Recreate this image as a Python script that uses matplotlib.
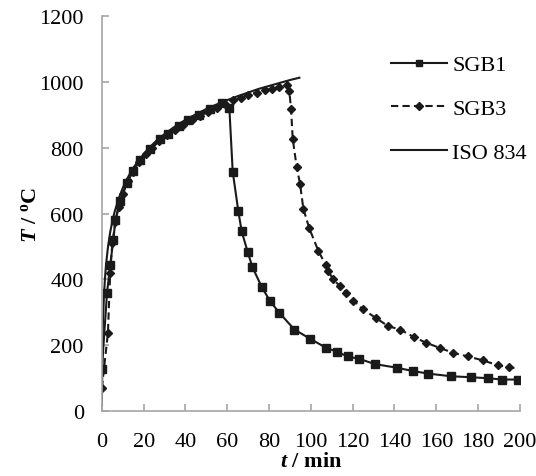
import matplotlib
matplotlib.use('Agg')
import matplotlib.pyplot as plt

plt.rcParams['font.family'] = ['Liberation Serif', 'DejaVu Serif']
plt.rcParams['mathtext.fontset'] = 'custom'
plt.rcParams['mathtext.it'] = 'Liberation Serif:bold:italic'
plt.rcParams['mathtext.rm'] = 'Liberation Serif:bold'

# ISO 834 standard fire curve
iso_t = [0, 0.5, 1, 1.5, 2, 3, 4, 5, 6, 8, 10, 12, 15, 20, 25, 30, 35, 40, 45,
         50, 55, 60, 65, 70, 75, 80, 85, 90, 94.5]
iso_T = [20, 261, 349, 404, 445, 502, 544, 576, 603, 645, 678, 705, 739, 781, 815,
         842, 865, 885, 902, 918, 932, 945, 957, 968, 979, 988, 997, 1006, 1013]

# SGB1
sgb1_t = [0, 2.5, 4, 5.5, 6.5, 8.7, 11.9, 15.1, 18.3, 23.1, 27.9, 31.8, 37, 41.4,
          46.7, 51.8, 57.4, 61, 62.6, 65.3, 66.9, 69.8, 72, 76.5, 80.5, 84.9, 92.1,
          99.6, 107.1, 112.3, 117.6, 123, 130.6, 141, 148.7, 156.1, 167, 176.4,
          184.8, 191.2, 199.1]
sgb1_T = [128, 360, 445, 519, 582, 637, 692, 731, 762, 797, 828, 843, 866, 886,
          901, 917, 937, 921, 728, 607, 546, 483, 438, 377, 334, 299, 248,
          220, 193, 181, 166, 159, 143, 132, 122, 114, 106, 103,
          100, 96, 96]

# SGB3
sgb3_t = [0, 2.9, 4, 5, 6.5, 8, 10, 12.5, 15, 18, 21, 24, 27.5, 31, 35, 39, 43, 47,
          51, 55, 59, 62.9, 66.5, 70.1, 74, 78.1, 81.5, 84.9, 88.5, 89.7, 90.5,
          91.3, 93.2, 94.8, 96.4, 99.2, 103.5, 107, 108.3, 110.4, 113.9, 116.8,
          120.3, 125, 131.1, 137, 142.6, 149.3, 155, 161.7, 168.1, 175.2, 182.4,
          189.6, 194.8, 199]
sgb3_T = [70, 237, 420, 510, 575, 620, 660, 700, 728, 757, 780, 800, 820, 838, 855,
          870, 884, 897, 910, 920, 932, 944, 952, 961, 968, 975, 980, 985, 990, 972,
          919, 828, 742, 691, 615, 556, 488, 445, 427, 402, 380, 360,
          336, 309, 283, 258, 248, 225, 208, 192, 177, 166, 154,
          139, 134, 129]

fig = plt.figure(figsize=(5.36, 4.77), dpi=100)
ax = fig.add_axes([0.19, 0.136, 0.78, 0.828])

ax.plot(sgb1_t, sgb1_T, '-', color='#1a1a1a', marker='s', markersize=6,
        linewidth=1.5, label='SGB1')
ax.plot(sgb3_t, sgb3_T, '--', color='#1a1a1a', marker='D', markersize=4.5,
        linewidth=1.5, dashes=(3.5, 2), markevery=list(range(len(sgb3_t) - 1)),
        label='SGB3')
ax.plot(iso_t, iso_T, '-', color='#1a1a1a', linewidth=1.5, label='ISO 834')

ax.set_xlim(0, 200)
ax.set_ylim(0, 1200)
ax.set_xticks(range(0, 201, 20))
ax.set_yticks(range(0, 1201, 200))
for s in ['top', 'right']:
    ax.spines[s].set_visible(False)
for s in ['left', 'bottom']:
    ax.spines[s].set_color('#a6a6a6')
    ax.spines[s].set_linewidth(1.2)
ax.tick_params(direction='in', length=5, width=1.2, color='#a6a6a6',
               labelsize=16)
ax.tick_params(axis='x', pad=15)
ax.tick_params(axis='y', pad=13)

ax.set_xlabel(r'$t$ / min', fontsize=16, fontweight='bold', labelpad=0)
ax.set_ylabel(r'$T$ / $^{\mathrm{o}}$C', fontsize=16, fontweight='bold', labelpad=-1)

ax.legend(loc='upper right', bbox_to_anchor=(1.065, 0.953), frameon=False,
          fontsize=16, numpoints=1, handlelength=2.5, labelspacing=1.05,
          handletextpad=0.25, markerscale=0.8)

fig.savefig('out.png', dpi=100)
